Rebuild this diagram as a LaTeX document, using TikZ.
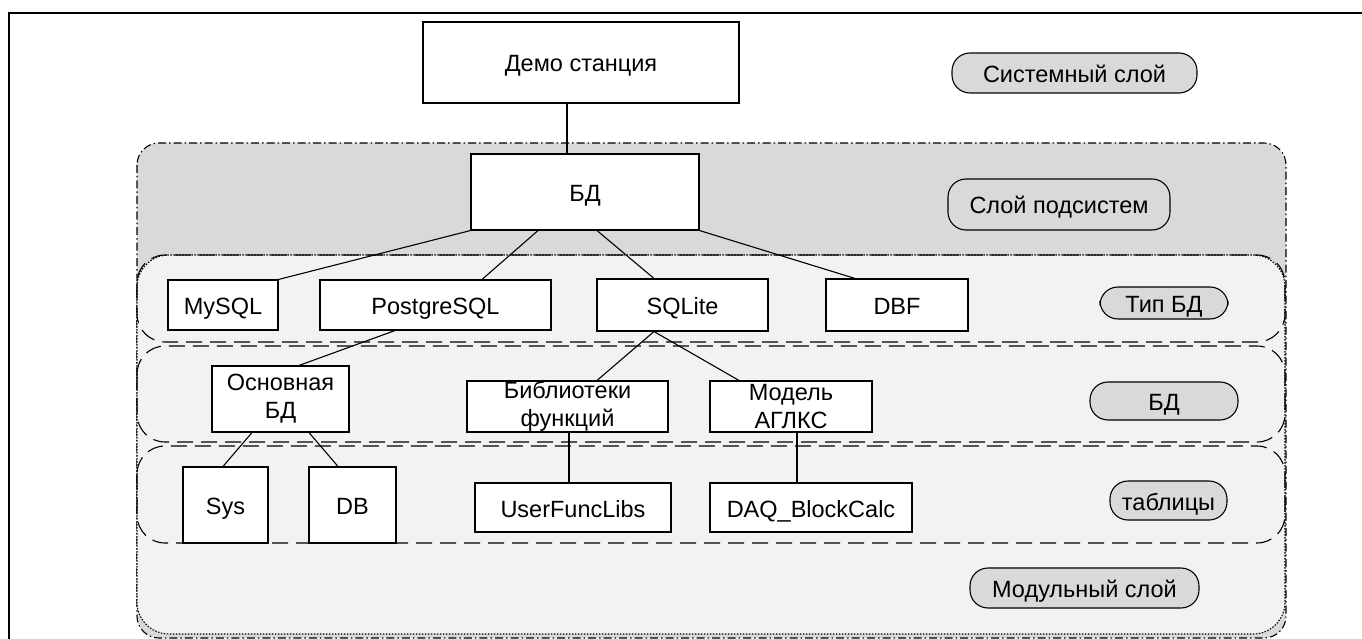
\documentclass[tikz,border=0pt]{standalone}
\usepackage{fontspec}
\setmainfont{Liberation Sans}
\usetikzlibrary{positioning}
\definecolor{subgray}{HTML}{D9D9D9}
\definecolor{modgray}{HTML}{F2F2F2}
\begin{document}
\begin{tikzpicture}[x=1pt, y=-1pt, line width=1.1pt]
      % Node style
      \tikzset{
        box/.style={draw, fill=white, inner sep=0pt, text height=19pt, text depth=0pt,
          font=\fontsize{23.5}{28}\selectfont},
        twobox/.style={draw, fill=white, inner sep=0pt, align=center,
          font=\fontsize{23.5}{28}\selectfont},
        pill/.style={draw, fill=subgray, inner sep=0pt, rounded corners=18pt,
          text height=19pt, text depth=0pt, font=\fontsize{23.5}{28}\selectfont},
        layerbox/.style={draw, dash pattern=on 16pt off 8pt, rounded corners=28pt},
      }
      \useasboundingbox (0,0) rectangle (1362,639);
      % Frame and layers
      \draw[line width=2.6pt] (9,13) rectangle (1400,680);
      \draw[fill=subgray, dash pattern=on 8pt off 3pt on 1.5pt off 3pt, rounded corners=22pt]
        (137,143) rectangle (1286,638);
      \draw[fill=modgray, dash pattern=on 1.5pt off 1.5pt, rounded corners=32pt]
        (137,255) rectangle (1285,634);
      \draw[layerbox] (137,255) rectangle (1285,342);
      \draw[layerbox] (137,346) rectangle (1285,442);
      \draw[layerbox] (137,446) rectangle (1285,543);
      % Nodes
      \node (demo) [box, minimum width=316, minimum height=81] at (581,62.5) {Демо станция};
      \node (bd) [box, minimum width=228, minimum height=76] at (585,192) {БД};
      \node (mysql) [box, minimum width=110, minimum height=50] at (223,305) {MySQL};
      \node (pg) [box, minimum width=231, minimum height=50] at (435.5,305) {PostgreSQL};
      \node (sqlite) [box, minimum width=171, minimum height=52] at (682.5,305) {SQLite};
      \node (dbf) [box, minimum width=142, minimum height=52] at (897,305) {DBF};
      \node (osn) [twobox, minimum width=137, minimum height=66] at (280.5,399) {Основная\\БД};
      \node (biblio) [twobox, minimum width=201, minimum height=51] at (567.5,406.5) {Библиотеки\\функций};
      \node (model) [twobox, minimum width=162, minimum height=51] at (791,406.5) {Модель\\АГЛКС};
      \node (sys) [box, minimum width=85, minimum height=76] at (225.5,505) {Sys};
      \node (db) [box, minimum width=87, minimum height=76] at (352.5,505) {DB};
      \node (ufl) [box, minimum width=196, minimum height=49] at (573,507.5) {UserFuncLibs};
      \node (daq) [box, minimum width=202, minimum height=49] at (811,507.5) {DAQ\_BlockCalc};
      % Layer labels
      \node (syslayer) [pill, minimum width=245, minimum height=40] at (1074.5,73) {Системный слой};
      \node (sublayer) [pill, minimum width=222, minimum height=51] at (1059,204.5) {Слой подсистем};
      \node (typlayer) [pill, minimum width=128, minimum height=32] at (1164,303) {Тип БД};
      \node (bdlayer) [pill, minimum width=148, minimum height=38] at (1164,401) {БД};
      \node (tablayer) [pill, minimum width=117, minimum height=39] at (1168.5,500.5) {таблицы};
      \node (modlayer) [pill, minimum width=229, minimum height=40] at (1084.5,588) {Модульный слой};
      % Links
      \draw ([xshift=-14]demo.south) -- ([xshift=-18]bd.north);
      \draw (bd.south west) -- (mysql.north east);
      \draw ([xshift=-47]bd.south) -- ([xshift=46.5]pg.north);
      \draw ([xshift=12]bd.south) -- ([xshift=-28.5]sqlite.north);
      \draw (bd.south east) -- ([xshift=-42]dbf.north);
      \draw ([xshift=-40.5]pg.south) -- ([xshift=18.5]osn.north);
      \draw ([xshift=-28.5]sqlite.south) -- ([xshift=29.5]biblio.north);
      \draw ([xshift=-28.5]sqlite.south) -- ([xshift=-52]model.north);
      \draw ([xshift=-28.5]osn.south) -- ([xshift=-2.5]sys.north);
      \draw ([xshift=28.5]osn.south) -- ([xshift=-14.5]db.north);
      \draw ([xshift=1.5]biblio.south) -- ([xshift=-4]ufl.north);
      \draw ([xshift=6]model.south) -- ([xshift=-14]daq.north);
    \end{tikzpicture}
\end{document}
